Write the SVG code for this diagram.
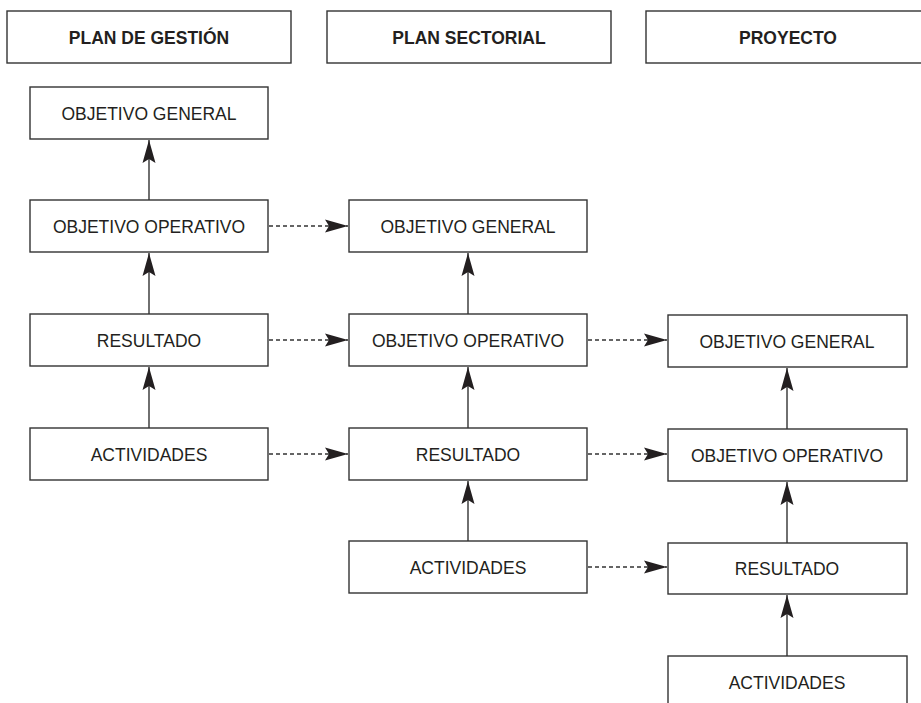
<svg xmlns="http://www.w3.org/2000/svg" width="921" height="703" viewBox="0 0 921 703">
<style>
.box{fill:#fff;stroke:#333;stroke-width:1.4}
.hd{font-family:"Liberation Sans",Arial,sans-serif;font-weight:bold;font-size:17.5px;fill:#231f20;text-anchor:middle}
.tx{font-family:"Liberation Sans",Arial,sans-serif;font-size:17.5px;fill:#231f20;text-anchor:middle}
.solid{stroke:#333;stroke-width:1.4;fill:none}
.dash{stroke:#333;stroke-width:1.3;fill:none;stroke-dasharray:4 3}
</style>
<defs>
<marker id="ah" markerUnits="userSpaceOnUse" markerWidth="24" markerHeight="14" refX="23" refY="7" orient="auto" viewBox="0 0 24 14">
<path d="M0,0.5 L23,7 L0,13.5 L4,7 Z" fill="#231f20"/>
</marker>
</defs>
<rect width="921" height="703" fill="#fff"/>
<g id="h1"><rect class="box" x="7" y="11" width="284" height="52"/><text class="hd" x="149" y="44">PLAN DE GESTIÓN</text></g>
<g id="h2"><rect class="box" x="327" y="11" width="284" height="52"/><text class="hd" x="469" y="44">PLAN SECTORIAL</text></g>
<g id="h3"><rect class="box" x="646" y="11" width="284" height="52"/><text class="hd" x="788" y="44">PROYECTO</text></g>

<g id="c1og"><rect class="box" x="30" y="87" width="238" height="52"/><text class="tx" x="149" y="120">OBJETIVO GENERAL</text></g>
<g id="c1oo"><rect class="box" x="30" y="200" width="238" height="52"/><text class="tx" x="149" y="233">OBJETIVO OPERATIVO</text></g>
<g id="c1re"><rect class="box" x="30" y="314" width="238" height="52"/><text class="tx" x="149" y="347">RESULTADO</text></g>
<g id="c1ac"><rect class="box" x="30" y="428" width="238" height="52"/><text class="tx" x="149" y="461">ACTIVIDADES</text></g>

<g id="c2og"><rect class="box" x="349" y="200" width="238" height="52"/><text class="tx" x="468" y="233">OBJETIVO GENERAL</text></g>
<g id="c2oo"><rect class="box" x="349" y="314" width="238" height="52"/><text class="tx" x="468" y="347">OBJETIVO OPERATIVO</text></g>
<g id="c2re"><rect class="box" x="349" y="428" width="238" height="52"/><text class="tx" x="468" y="461">RESULTADO</text></g>
<g id="c2ac"><rect class="box" x="349" y="541" width="238" height="52"/><text class="tx" x="468" y="574">ACTIVIDADES</text></g>

<g id="c3og"><rect class="box" x="668" y="315" width="239" height="52"/><text class="tx" x="787" y="348">OBJETIVO GENERAL</text></g>
<g id="c3oo"><rect class="box" x="668" y="429" width="239" height="52"/><text class="tx" x="787" y="462">OBJETIVO OPERATIVO</text></g>
<g id="c3re"><rect class="box" x="668" y="543" width="239" height="51"/><text class="tx" x="787" y="575">RESULTADO</text></g>
<g id="c3ac"><rect class="box" x="668" y="656" width="239" height="60"/><text class="tx" x="787" y="689">ACTIVIDADES</text></g>

<g id="connectors">
<path class="solid" d="M149,200 V140" marker-end="url(#ah)"/>
<path class="solid" d="M149,314 V253" marker-end="url(#ah)"/>
<path class="solid" d="M149,428 V367" marker-end="url(#ah)"/>
<path class="solid" d="M468,314 V253" marker-end="url(#ah)"/>
<path class="solid" d="M468,428 V367" marker-end="url(#ah)"/>
<path class="solid" d="M468,541 V481" marker-end="url(#ah)"/>
<path class="solid" d="M787,429 V368" marker-end="url(#ah)"/>
<path class="solid" d="M787,543 V482" marker-end="url(#ah)"/>
<path class="solid" d="M787,656 V595" marker-end="url(#ah)"/>
<path class="dash" d="M269,226 H348" marker-end="url(#ah)"/>
<path class="dash" d="M269,340 H348" marker-end="url(#ah)"/>
<path class="dash" d="M269,454 H348" marker-end="url(#ah)"/>
<path class="dash" d="M588,340 H667" marker-end="url(#ah)"/>
<path class="dash" d="M588,454 H667" marker-end="url(#ah)"/>
<path class="dash" d="M588,567 H667" marker-end="url(#ah)"/>
</g>
</svg>
